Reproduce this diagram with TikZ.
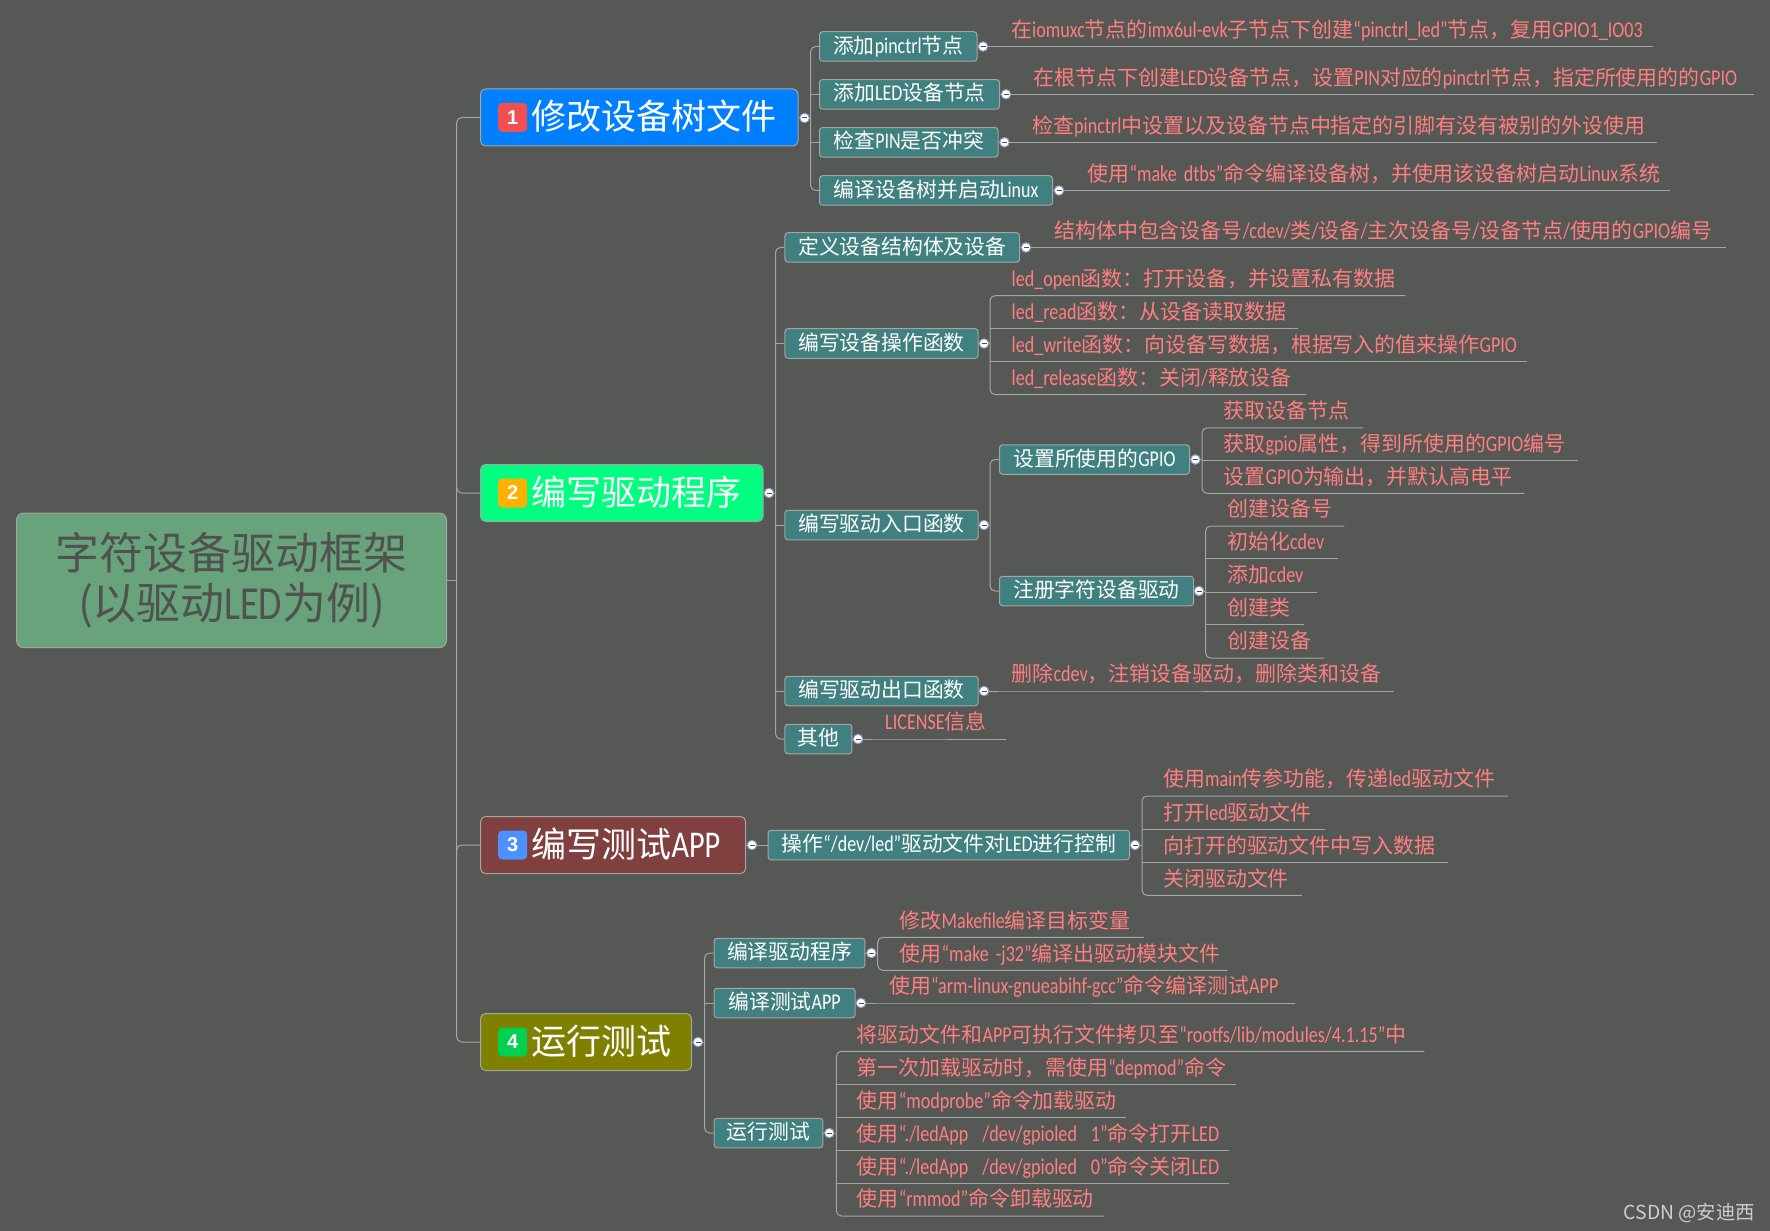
\documentclass[tikz,border=0pt]{standalone}
\usepackage{fontspec}
\setmainfont{Noto Sans CJK SC}
\newfontfamily\latfont[FakeStretch=0.8,Scale=1.08]{Carlito}
\newfontfamily\digitfont{Liberation Sans}
\newcommand{\ltn}[1]{{\latfont #1}}
\usepackage{tikz}
\usetikzlibrary{calc}
\definecolor{canvas}{HTML}{565855}
\definecolor{wiregray}{HTML}{A3A6A2}
\definecolor{rootgreen}{HTML}{69A37B}
\definecolor{rootink}{HTML}{505250}
\definecolor{subteal}{HTML}{408080}
\definecolor{leafred}{HTML}{FF7F7F}
\definecolor{knobring}{HTML}{8F9BC8}
\definecolor{knobdash}{HTML}{4A4F60}
\definecolor{markgray}{HTML}{CDCFCC}

\begin{document}
\begin{tikzpicture}[
  x=1pt, y=-1pt,
  root/.style={rectangle, rounded corners=7pt, draw=wiregray, line width=1pt, fill=rootgreen, text=rootink, anchor=west, minimum width=430pt, minimum height=134.5pt, align=center, inner sep=0pt, font=\fontsize{43.9}{50}\selectfont},
  main/.style={rectangle, rounded corners=5pt, draw=wiregray, line width=1pt, text=white, anchor=west, minimum height=57pt, inner xsep=0pt, inner ysep=0pt, text width=#1pt, text height=36pt, text depth=11.4pt, align=left, execute at begin node=\hspace*{51pt}, font=\fontsize{35}{38}\selectfont},
  badge/.style={rectangle, rounded corners=4pt, text=white, anchor=west, minimum size=29pt, inner sep=0pt, font=\digitfont\bfseries\fontsize{20}{22}\selectfont},
  sub/.style={rectangle, rounded corners=3pt, draw=wiregray, line width=1pt, fill=subteal, text=white, anchor=west, minimum width=#1pt, minimum height=29.5pt, inner sep=0pt, text height=20pt, text depth=6.6pt, font=\fontsize{20.8}{24}\selectfont},
  leaf/.style={anchor=south west, inner sep=0pt, text=leafred, text width=#1pt, text height=17pt, text depth=9pt, align=left, font=\fontsize{20.95}{24}\selectfont},
  knob/.style={circle, fill=white, draw=knobring, line width=1pt, minimum size=9.5pt, inner sep=0pt, path picture={\draw[knobdash, line width=1pt] ([xshift=-2.5pt]path picture bounding box.center) -- ([xshift=2.5pt]path picture bounding box.center);}},
  wire/.style={draw=wiregray, line width=1pt, rounded corners=5pt}
]
  \useasboundingbox (0,0) rectangle (1770,1230.3);
  \fill[canvas] (0,0) rectangle (1770,1240);

  % root and the four branches
  \node[root] (root) at (16,580.3) {字符设备驱动框架\\(以驱动\ltn{LED}为例)};
  \node[main=317.5, fill={rgb,255:red,0;green,128;blue,255}] (m1) at (480,117.5) {修改设备树文件};
  \node[main=282.5, fill={rgb,255:red,0;green,255;blue,128}] (m2) at (480,493) {编写驱动程序};
  \node[main=265, fill={rgb,255:red,128;green,64;blue,64}] (m3) at (480,845) {编写测试\ltn{APP}};
  \node[main=211, fill={rgb,255:red,128;green,128;blue,0}] (m4) at (480,1042) {运行测试};
  \node[badge, fill={rgb,255:red,240;green,80;blue,80}] (b1) at ([xshift=18pt]m1.west) {1};
  \node[badge, fill={rgb,255:red,255;green,176;blue,0}] (b2) at ([xshift=18pt]m2.west) {2};
  \node[badge, fill={rgb,255:red,77;green,144;blue,255}] (b3) at ([xshift=18pt]m3.west) {3};
  \node[badge, fill={rgb,255:red,0;green,208;blue,80}] (b4) at ([xshift=18pt]m4.west) {4};
  \coordinate (trunk) at (456.7,580.3);

  % branch 1
  \node[knob] (k1) at (804.6,118) {};
  \coordinate (sp1) at (810.7,118);
  \node[sub=157.5] (s1a) at (819,46.5) {添加\ltn{pinctrl}节点};
  \node[sub=180] (s1b) at (819,94.3) {添加\ltn{LED}设备节点};
  \node[sub=178.6] (s1c) at (819,142.3) {检查\ltn{PIN}是否冲突};
  \node[sub=233] (s1d) at (819,190.5) {编译设备树并启动\ltn{Linux}};
  \node[knob] (k1a) at (983,46.5) {};
  \node[knob] (k1b) at (1006,94.3) {};
  \node[knob] (k1c) at (1004.5,142.3) {};
  \node[knob] (k1d) at (1059,190.5) {};
  \node[leaf=642] (l1a) at (1011,46.5) {在\ltn{iomuxc}节点的\ltn{imx6ul-evk}子节点下创建\ltn{“pinctrl\_led”}节点，复用\ltn{GPIO1\_IO03}};
  \node[leaf=720.6] (l1b) at (1033.4,94.3) {在根节点下创建\ltn{LED}设备节点，设置\ltn{PIN}对应的\ltn{pinctrl}节点，指定所使用的的\ltn{GPIO}};
  \node[leaf=625] (l1c) at (1032,142.3) {检查\ltn{pinctrl}中设置以及设备节点中指定的引脚有没有被别的外设使用};
  \node[leaf=582.6] (l1d) at (1087.4,190.5) {使用\ltn{“make dtbs”}命令编译设备树，并使用该设备树启动\ltn{Linux}系统};

  % branch 2
  \node[knob] (k2) at (769,493) {};
  \coordinate (sp2) at (775.5,493);
  \node[sub=234.6] (s2a) at (784.4,247.5) {定义设备结构体及设备};
  \node[sub=193.3] (s2b) at (784.4,343.5) {编写设备操作函数};
  \node[sub=193.3] (s2c) at (784.4,525) {编写驱动入口函数};
  \node[sub=193.3] (s2d) at (784.4,691) {编写驱动出口函数};
  \node[sub=67] (s2e) at (784.4,739) {其他};
  \node[knob] (k2a) at (1026,247.5) {};
  \node[knob] (k2b) at (984,343.5) {};
  \node[knob] (k2c) at (984,525) {};
  \node[knob] (k2d) at (984,691) {};
  \node[knob] (k2e) at (858,739) {};
  \coordinate (sp2b) at (990,343.5);
  \coordinate (sp2c) at (990,525);
  \node[leaf=672] (l2a) at (1054,247.5) {结构体中包含设备号\ltn{/cdev/}类\ltn{/}设备\ltn{/}主次设备号\ltn{/}设备节点\ltn{/}使用的\ltn{GPIO}编号};
  \node[leaf=393.6] (l2b1) at (1011.4,295.7) {\ltn{led\_open}函数：打开设备，并设置私有数据};
  \node[leaf=286.6] (l2b2) at (1011.4,328.5) {\ltn{led\_read}函数：从设备读取数据};
  \node[leaf=515.6] (l2b3) at (1011.4,361.8) {\ltn{led\_write}函数：向设备写数据，根据写入的值来操作\ltn{GPIO}};
  \node[leaf=294.6] (l2b4) at (1011.4,394.5) {\ltn{led\_release}函数：关闭\ltn{/}释放设备};
  \node[sub=190] (s2c1) at (999,459.5) {设置所使用的\ltn{GPIO}};
  \node[sub=194] (s2c2) at (999,591) {注册字符设备驱动};
  \node[knob] (k2c1) at (1195.4,459.5) {};
  \node[knob] (k2c2) at (1199,591) {};
  \coordinate (sp2c1) at (1202,459.5);
  \coordinate (sp2c2) at (1205.6,591);
  \node[leaf=139] (l2c1a) at (1223.6,427.8) {获取设备节点};
  \node[leaf=354.4] (l2c1b) at (1223.6,460.5) {获取\ltn{gpio}属性，得到所使用的\ltn{GPIO}编号};
  \node[leaf=300.4] (l2c1c) at (1223.6,493.3) {设置\ltn{GPIO}为输出，并默认高电平};
  \node[leaf=117] (l2c2a) at (1227,526) {创建设备号};
  \node[leaf=110.6] (l2c2b) at (1227,558.8) {初始化\ltn{cdev}};
  \node[leaf=90] (l2c2c) at (1227,592) {添加\ltn{cdev}};
  \node[leaf=77] (l2c2d) at (1227,624.8) {创建类};
  \node[leaf=97] (l2c2e) at (1227,658) {创建设备};
  \node[leaf=382.6] (l2d) at (1011.4,691) {删除\ltn{cdev}，注销设备驱动，删除类和设备};
  \node[leaf=120.8] (l2e) at (885,739) {\ltn{LICENSE}信息};

  % branch 3
  \node[knob] (k3) at (752,845) {};
  \node[sub=361.4] (s3a) at (767.6,845) {操作\ltn{“/dev/led”}驱动文件对\ltn{LED}进行控制};
  \node[knob] (k3a) at (1135,845) {};
  \coordinate (sp3a) at (1142,845);
  \node[leaf=344.7] (l3a) at (1163,796) {使用\ltn{main}传参功能，传递\ltn{led}驱动文件};
  \node[leaf=162] (l3b) at (1163,829.3) {打开\ltn{led}驱动文件};
  \node[leaf=285] (l3c) at (1163,862.3) {向打开的驱动文件中写入数据};
  \node[leaf=138.5] (l3d) at (1163,895.3) {关闭驱动文件};

  % branch 4
  \node[knob] (k4) at (698,1042) {};
  \coordinate (sp4) at (704.5,1042);
  \node[sub=150.8] (s4a) at (713.6,953) {编译驱动程序};
  \node[sub=141] (s4b) at (713.6,1003) {编译测试\ltn{APP}};
  \node[sub=108.7] (s4c) at (713.6,1133) {运行测试};
  \node[knob] (k4a) at (871.4,953) {};
  \node[knob] (k4b) at (861,1003) {};
  \node[knob] (k4c) at (829.3,1133) {};
  \coordinate (sp4a) at (877.7,953);
  \coordinate (sp4c) at (836.4,1133);
  \node[leaf=244] (l4a1) at (899.5,937.3) {修改\ltn{Makefile}编译目标变量};
  \node[leaf=327.5] (l4a2) at (899.5,970.3) {使用\ltn{“make -j32”}编译出驱动模块文件};
  \node[leaf=405.4] (l4b) at (889,1003) {使用\ltn{“arm-linux-gnueabihf-gcc”}命令编译测试\ltn{APP}};
  \node[leaf=567.3] (l4c1) at (856.7,1051.3) {将驱动文件和\ltn{APP}可执行文件拷贝至\ltn{“rootfs/lib/modules/4.1.15”}中};
  \node[leaf=379.3] (l4c2) at (856.7,1084.3) {第一次加载驱动时，需使用\ltn{“depmod”}命令};
  \node[leaf=269.3] (l4c3) at (856.7,1117.3) {使用\ltn{“modprobe”}命令加载驱动};
  \node[leaf=371.8] (l4c4) at (856.7,1150.3) {使用\ltn{“./ledApp\ \ /dev/gpioled\ \ 1”}命令打开\ltn{LED}};
  \node[leaf=371.8] (l4c5) at (856.7,1183.3) {使用\ltn{“./ledApp\ \ /dev/gpioled\ \ 0”}命令关闭\ltn{LED}};
  \node[leaf=246.9] (l4c6) at (856.7,1216) {使用\ltn{“rmmod”}命令卸载驱动};

  \node[anchor=east, inner sep=0pt, text=markgray, font=\fontsize{19.3}{22}\selectfont] (mark) at (1755,1213) {CSDN @安迪西};

  % connectors
  \draw[wire] (root.east) -- (trunk);
  \draw[wire] (m1.west) -- (m1.west -| trunk) -- (m4.west -| trunk) -- (m4.west);
  \draw[wire] (m2.west) -- (m2.west -| trunk) -- ([yshift=12pt]m2.west -| trunk);
  \draw[wire] (m3.west) -- (m3.west -| trunk) -- ([yshift=-12pt]m3.west -| trunk);

  \draw[wire] (m1.east) -- (k1) -- (sp1);
  \draw[wire] (s1a.west) -- (s1a.west -| sp1) -- (s1d.west -| sp1) -- (s1d.west);
  \draw[wire] (s1b.west) -- (s1b.west -| sp1);
  \draw[wire] (s1c.west) -- (s1c.west -| sp1);
  \foreach \sb/\kn/\lf in {s1a/k1a/l1a, s1b/k1b/l1b, s1c/k1c/l1c, s1d/k1d/l1d, s2a/k2a/l2a, s2d/k2d/l2d, s2e/k2e/l2e, s4b/k4b/l4b} {
    \draw[wire] (\sb.east) -- (\kn);
    \draw[wire] (\kn) -- (\lf.south west) -- (\lf.south east);
  }

  \draw[wire] (m2.east) -- (k2) -- (sp2);
  \draw[wire] (s2a.west) -- (s2a.west -| sp2) -- (s2e.west -| sp2) -- (s2e.west);
  \foreach \sb in {s2b, s2c, s2d} {
    \draw[wire] (\sb.west) -- (\sb.west -| sp2);
  }
  \draw[wire] (s2b.east) -- (k2b) -- (sp2b);
  \draw[wire] (s2c.east) -- (k2c) -- (sp2c);
  \draw[wire] (l2b1.south east) -- (l2b1.south west -| sp2b) -- (l2b4.south west -| sp2b) -- (l2b4.south east);
  \draw[wire] (l2b2.south east) -- (l2b2.south west -| sp2b);
  \draw[wire] (l2b3.south east) -- (l2b3.south west -| sp2b);
  \draw[wire] (s2c1.west) -- (s2c1.west -| sp2c) -- (s2c2.west -| sp2c) -- (s2c2.west);

  \draw[wire] (s2c1.east) -- (k2c1) -- (sp2c1);
  \draw[wire] (l2c1a.south east) -- (l2c1a.south west -| sp2c1) -- (l2c1c.south west -| sp2c1) -- (l2c1c.south east);
  \draw[wire] (l2c1b.south east) -- (l2c1b.south west -| sp2c1);
  \draw[wire] (s2c2.east) -- (k2c2) -- (sp2c2);
  \draw[wire] (l2c2a.south east) -- (l2c2a.south west -| sp2c2) -- (l2c2e.south west -| sp2c2) -- (l2c2e.south east);
  \foreach \lf in {l2c2b, l2c2c, l2c2d} {
    \draw[wire] (\lf.south east) -- (\lf.south west -| sp2c2);
  }

  \draw[wire] (m3.east) -- (k3) -- (s3a.west);
  \draw[wire] (s3a.east) -- (k3a) -- (sp3a);
  \draw[wire] (l3a.south east) -- (l3a.south west -| sp3a) -- (l3d.south west -| sp3a) -- (l3d.south east);
  \draw[wire] (l3b.south east) -- (l3b.south west -| sp3a);
  \draw[wire] (l3c.south east) -- (l3c.south west -| sp3a);

  \draw[wire] (m4.east) -- (k4) -- (sp4);
  \draw[wire] (s4a.west) -- (s4a.west -| sp4) -- (s4c.west -| sp4) -- (s4c.west);
  \draw[wire] (s4b.west) -- (s4b.west -| sp4);
  \draw[wire] (s4a.east) -- (k4a) -- (sp4a);
  \draw[wire] (l4a1.south east) -- (l4a1.south west -| sp4a) -- (l4a2.south west -| sp4a) -- (l4a2.south east);
  \draw[wire] (s4c.east) -- (k4c) -- (sp4c);
  \draw[wire] (l4c1.south east) -- (l4c1.south west -| sp4c) -- (l4c6.south west -| sp4c) -- (l4c6.south east);
  \foreach \lf in {l4c2, l4c3, l4c4, l4c5} {
    \draw[wire] (\lf.south east) -- (\lf.south west -| sp4c);
  }
\end{tikzpicture}
\end{document}
